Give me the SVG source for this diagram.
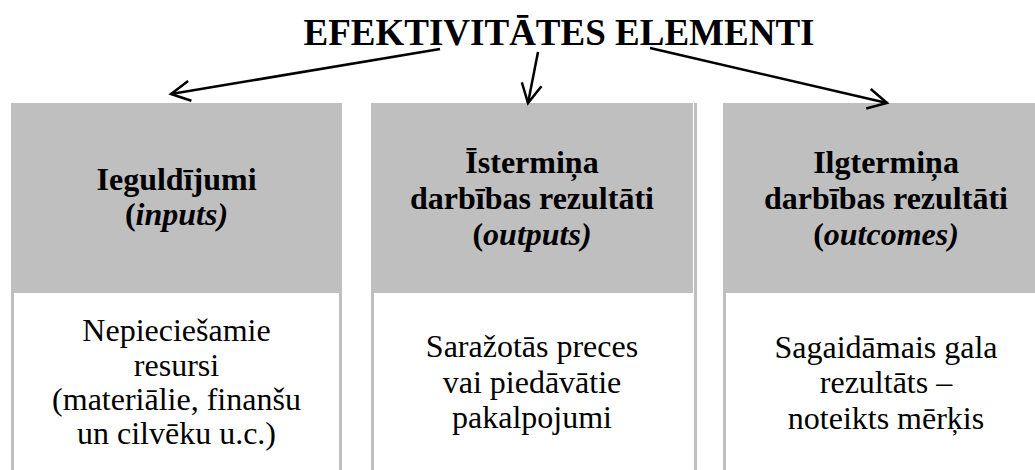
<svg xmlns="http://www.w3.org/2000/svg" width="1035" height="470" viewBox="0 0 1035 470">
<style>
.g{fill:#bfbfbf}
.w{fill:#ffffff}
text{font-family:"Liberation Serif","Times New Roman",serif;font-size:32px;fill:#000;text-anchor:middle}
.b{font-weight:bold}
.i{font-style:italic}
.title{font-size:37px;font-weight:bold}
.arr{stroke:#000;stroke-width:2.5;fill:none;marker-end:url(#ah)}
</style>
<defs>
<marker id="ah" markerUnits="userSpaceOnUse" markerWidth="40" markerHeight="40" viewBox="-25 -20 30 40" refX="0" refY="0" orient="auto" overflow="visible">
<path d="M-19,-10 L0,0 L-19,10" fill="none" stroke="#000" stroke-width="2.5" stroke-linejoin="miter"/>
</marker>
</defs>
<rect width="1035" height="470" fill="#ffffff"/>
<g id="title">
<text class="title" x="559" y="45">EFEKTIVITĀTES ELEMENTI</text>
</g>
<g id="node-inputs">
<rect class="g" x="11" y="103" width="331" height="367"/>
<rect class="w" x="14" y="293" width="325" height="177"/>
<text class="b" x="176.5" y="190">Ieguldījumi</text>
<text class="b" x="176.5" y="225">(<tspan class="i">inputs)</tspan></text>
<text x="176.5" y="341">Nepieciešamie</text>
<text x="176.5" y="376">resursi</text>
<text x="176.5" y="410">(materiālie, finanšu</text>
<text x="176.5" y="444">un cilvēku u.c.)</text>
</g>
<g id="node-outputs">
<rect class="g" x="371" y="103" width="322" height="190"/>
<rect class="g" x="371" y="293" width="3" height="177"/>
<rect class="g" x="694" y="103" width="3" height="367"/>
<text class="b" x="532" y="173">Īstermiņa</text>
<text class="b" x="532" y="209">darbības rezultāti</text>
<text class="b" x="532" y="245">(<tspan class="i">outputs)</tspan></text>
<text x="532" y="357">Saražotās preces</text>
<text x="532" y="393">vai piedāvātie</text>
<text x="532" y="428">pakalpojumi</text>
</g>
<g id="node-outcomes">
<rect class="g" x="723" y="103" width="312" height="190"/>
<rect class="g" x="723" y="293" width="3" height="177"/>
<text class="b" x="886" y="173">Ilgtermiņa</text>
<text class="b" x="886" y="209">darbības rezultāti</text>
<text class="b" x="886" y="245">(<tspan class="i">outcomes)</tspan></text>
<text x="886" y="358">Sagaidāmais gala</text>
<text x="886" y="393">rezultāts –</text>
<text x="886" y="429">noteikts mērķis</text>
</g>
<g id="connectors">
<line class="arr" x1="440" y1="49" x2="171" y2="94"/>
<line class="arr" x1="538" y1="52" x2="528" y2="103"/>
<line class="arr" x1="650" y1="48" x2="887" y2="103"/>
</g>
</svg>
